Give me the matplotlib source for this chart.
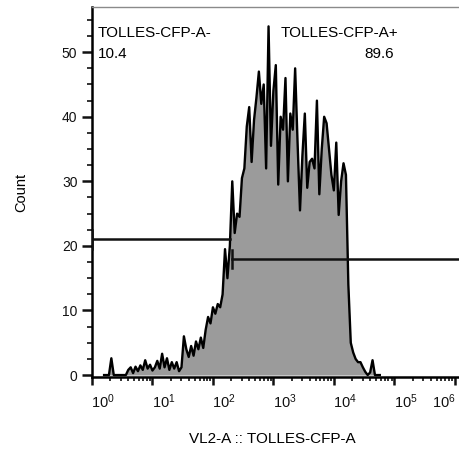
import numpy as np
import matplotlib.pyplot as plt
from matplotlib.transforms import ScaledTranslation
from matplotlib.ticker import FixedLocator, NullFormatter

plt.rcParams['font.family'] = ['Liberation Sans', 'DejaVu Sans']
plt.rcParams['mathtext.fontset'] = 'custom'
plt.rcParams['mathtext.rm'] = 'Liberation Sans'
plt.rcParams['mathtext.it'] = 'Liberation Sans:italic'

# histogram: channel position (log10 of VL2-A) and count per channel
log_start = 0.2
log_step = 0.04
counts = [
    0, 0, 0, 2.6, 0, 0, 0, 0, 0, 0,                         # 0.20 - 0.56
    0.8, 1.2, 0.3, 1.3, 0.6, 1.5, 0.8, 2.3, 1.0, 1.6,       # 0.60 - 0.96
    0.7, 1.2, 2.2, 1.0, 3.3, 1.2, 2.6, 0.8, 2.0, 1.0,       # 1.00 - 1.36
    2.0, 0.6, 1.2, 6.0, 4.0, 2.8, 4.5, 3.0, 5.2, 4.0,       # 1.40 - 1.76
    5.8, 4.2, 7.0, 9.0, 8.0, 10.5, 9.5, 11.0, 10.5, 12.5,   # 1.80 - 2.16
    19.5, 15.0, 20.0, 30.0, 22.0, 25.0, 24.5, 30.5, 32.0, 38.5,  # 2.20 - 2.56
    41.5, 33.0, 39.5, 43.0, 47.0, 42.0, 45.0, 32.0, 54.0, 35.5,  # 2.60 - 2.96
    44.0, 48.0, 29.5, 40.0, 38.0, 46.0, 30.0, 40.5, 38.0, 47.5,  # 3.00 - 3.36
    36.0, 25.5, 34.0, 40.5, 29.0, 33.0, 33.5, 32.0, 42.5, 28.0,  # 3.40 - 3.76
    35.0, 40.0, 39.0, 35.0, 31.0, 28.6, 36.0, 24.8, 30.0, 32.8,  # 3.80 - 4.16
    31.0, 14.0, 5.0, 3.5, 2.5, 2.0, 2.0, 1.2, 0.5, 0.0,          # 4.20 - 4.56
    0.4, 2.3, 0, 0, 0,                                           # 4.60 - 4.76
]
channels = 10 ** (log_start + log_step * np.arange(len(counts)))

# gates
gate_names = ['TOLLES-CFP-A-', 'TOLLES-CFP-A+']
gate_pcts = ['10.4', '89.6']
gate_lo = [1.0, 206.0]
gate_hi = [190.0, 10 ** 6.2]
gate_y = [21, 18]

fig = plt.figure(figsize=(4.59, 4.53), dpi=100)
W, H = 459, 453
ax = fig.add_axes([92 / W, 1 - 377 / H, 1 - 92 / W, 370 / H])

ax.fill_between(channels, counts, color='#9b9b9b', lw=0, zorder=1)
ax.plot(channels, counts, color='black', lw=1.7, zorder=2)

for lo, hi, gy in zip(gate_lo, gate_hi, gate_y):
    ax.plot([lo, hi], [gy, gy], color='#111111', lw=1.8, zorder=3, clip_on=True)
    ax.plot([lo, lo], [gy - 1.4, gy + 1.4], color='#111111', lw=1.8, zorder=3)

ax.set_xscale('log')
ax.set_xlim(1, 10 ** 6.07)
ax.set_ylim(-0.3, 57)

ax.spines['right'].set_visible(False)
ax.spines['top'].set_color('#8a8a8a')
ax.spines['top'].set_linewidth(1.0)
for s in ['left', 'bottom']:
    ax.spines[s].set_linewidth(1.8)

decades = [0, 1, 2, 3, 4, 5, 6]
ax.xaxis.set_major_locator(FixedLocator([10.0 ** d for d in decades]))
ax.xaxis.set_minor_locator(FixedLocator([m * 10.0 ** d for d in decades[:-1] for m in range(2, 10)]))
ax.set_xticklabels([r'$\mathregular{10^{%d}}$' % d for d in decades])
ax.xaxis.set_minor_formatter(NullFormatter())

ax.set_yticks([0, 10, 20, 30, 40, 50])
ax.set_yticks(np.arange(0, 57, 2.5), minor=True)

ax.tick_params(axis='x', which='major', direction='out', length=6, width=1.8,
               labelsize=10.5, pad=5, colors='#111111')
ax.tick_params(axis='x', which='minor', direction='out', length=3, width=1.2, colors='#111111')
ax.tick_params(axis='y', which='major', direction='out', length=7.5, width=1.8,
               labelsize=10, pad=3, colors='#111111')
ax.tick_params(axis='y', which='minor', direction='out', length=3.8, width=1.2, colors='#111111')

xlabels = ax.get_xticklabels()
for i, lab in enumerate(xlabels):
    dx = 8 if i < len(xlabels) - 1 else -8
    lab.set_transform(lab.get_transform() + ScaledTranslation(dx / 72, 0, fig.dpi_scale_trans))

# gate annotations
fig.text(98 / W, 1 - 37 / H, gate_names[0], fontsize=11, ha='left', va='baseline')
fig.text(98 / W, 1 - 58 / H, gate_pcts[0], fontsize=11, ha='left', va='baseline')
fig.text(281 / W, 1 - 37 / H, gate_names[1], fontsize=11, ha='left', va='baseline')
fig.text(394 / W, 1 - 58 / H, gate_pcts[1], fontsize=11, ha='right', va='baseline')

fig.text(21 / W, 1 - 192 / H, 'Count', fontsize=10.5, rotation=90, ha='center', va='center')
fig.text(272 / W, 1 - 439 / H, 'VL2-A :: TOLLES-CFP-A', fontsize=11, ha='center', va='center')

fig.savefig('out.png', dpi=100)
